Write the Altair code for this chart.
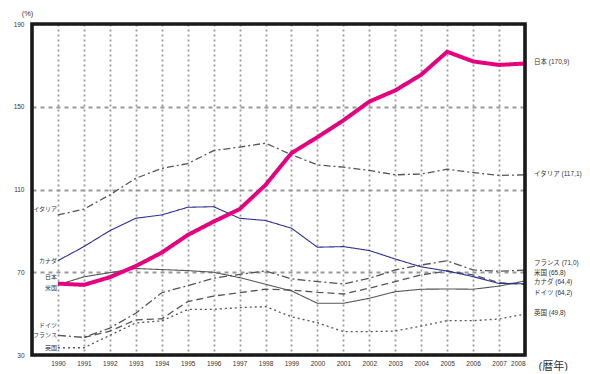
import altair as alt
import pandas as pd

years = list(range(1990, 2009))

japan = [64.5, 63.9, 67.6, 73.0, 79.5, 88.0, 94.5, 100.5, 112.2, 127.6, 135.3, 143.4, 152.5, 157.9, 165.5, 176.6, 171.9, 170.2, 170.9]
italy = [97.7, 100.5, 107.4, 115.4, 120.2, 122.5, 128.8, 130.5, 132.4, 126.8, 121.9, 120.8, 119.2, 117.1, 117.5, 119.8, 118.2, 116.8, 117.1]
canada = [75.6, 82.4, 90.1, 96.1, 97.7, 101.4, 101.7, 96.1, 95.0, 91.3, 82.1, 82.4, 80.5, 76.4, 72.6, 70.6, 67.9, 64.6, 64.4]
usa = [63.9, 67.8, 69.8, 71.8, 71.3, 70.8, 70.0, 67.4, 64.2, 61.0, 55.0, 55.0, 57.4, 60.6, 61.8, 61.9, 61.8, 63.3, 65.8]
france = [39.5, 38.5, 43.0, 50.2, 60.1, 63.5, 67.1, 69.0, 70.6, 66.8, 65.5, 64.3, 67.1, 71.1, 73.5, 75.5, 71.1, 70.5, 71.0]
germany = [None, 38.5, 41.5, 47.0, 47.5, 55.8, 58.5, 60.1, 61.8, 61.4, 60.3, 59.5, 62.3, 65.5, 68.7, 70.6, 68.7, 65.0, 64.2]
uk = [33.5, 33.5, 39.5, 45.5, 46.5, 52.0, 52.1, 52.9, 53.4, 48.5, 45.6, 41.3, 41.3, 41.6, 44.0, 46.6, 46.6, 47.4, 49.8]

names = ["英国", "ドイツ", "フランス", "米国", "カナダ", "イタリア", "日本"]
series = [uk, germany, france, usa, canada, italy, japan]
colors = ["#555555", "#555555", "#555555", "#555555", "#2e3192", "#555555", "#e4007f"]
dashes = [[2, 3], [7, 4], [8, 3, 2, 3], [1, 0], [1, 0], [7, 3, 2, 3], [1, 0]]
widths = [1.3, 1.3, 1.3, 1.1, 1.1, 1.3, 4.0]

right_labels = ["英国 (49,8)", "ドイツ (64,2)", "カナダ (64,4)", "米国 (65,8)", "フランス (71,0)", "イタリア (117,1)", "日本 (170,9)"]
right_label_y = [50.2, 60.1, 65.1, 69.8, 74.3, 117.5, 171.5]
left_labels = ["英国", "フランス", "ドイツ", "米国", "日本", "カナダ", "イタリア"]
left_label_y = [33.5, 39.7, 44.5, 62.2, 67.8, 75.6, 100.6]

y_ticks = [30, 70, 110, 150, 190]
FONT = "Liberation Sans, Noto Sans CJK JP"
W, H = 493, 331

xenc = alt.X("year:Q", scale=alt.Scale(domain=[1989, 2008], nice=False, zero=False),
             axis=alt.Axis(values=years, format="d", labelFontSize=6.5, ticks=False, domain=False,
                           grid=True, gridDash=[2, 3], gridColor="#999999", gridWidth=1.8,
                           labelPadding=5, labelColor="#333", labelFont=FONT,
                           title="(暦年)", titleFontSize=11, titleFontWeight="normal", titleFont=FONT,
                           titleColor="#333", titleAlign="left", titleBaseline="middle",
                           titleX=W + 13, titleY=11, titleAnchor="start"))
yenc = alt.Y("v:Q", scale=alt.Scale(domain=[30, 190], nice=False, zero=False),
             axis=alt.Axis(values=y_ticks, labelFontSize=6.5, ticks=False, domain=False,
                           grid=True, gridDash=[4, 4], gridColor="#999999", gridWidth=1.8,
                           labelPadding=8, labelColor="#333", labelFont=FONT,
                           title="(%)", titleAngle=0, titleFontSize=7.5, titleFontWeight="normal",
                           titleFont=FONT, titleColor="#333", titleAlign="center",
                           titleBaseline="top", titleX=-5, titleY=-15))

layers = []
for name, vals, c, d, w in zip(names, series, colors, dashes, widths):
    df = pd.DataFrame({"year": years, "v": vals}).dropna()
    layers.append(alt.Chart(df).mark_line(color=c, strokeDash=d, strokeWidth=w).encode(x=xenc, y=yenc))

rdf = pd.DataFrame({"year": [2008] * len(right_labels), "v": right_label_y, "t": right_labels})
ldf = pd.DataFrame({"year": [1990] * len(left_labels), "v": left_label_y, "t": left_labels})
layers.append(alt.Chart(rdf).mark_text(align="left", baseline="middle", dx=9, fontSize=6.5,
                                       font=FONT, color="#333").encode(x=xenc, y=yenc, text="t:N"))
layers.append(alt.Chart(ldf).mark_text(align="right", baseline="middle", dx=-1, fontSize=6,
                                       font=FONT, color="#333").encode(x=xenc, y=yenc, text="t:N"))
frame = alt.Chart(pd.DataFrame({"a": [0]})).mark_rect(fill=None, stroke="#1a1a1a", strokeWidth=3.6).encode(
    x=alt.value(0), x2=alt.value(W), y=alt.value(0), y2=alt.value(H))
layers.append(frame)

chart = alt.layer(*layers).properties(
    width=W, height=H,
    autosize=alt.AutoSizeParams(type="none"),
    padding={"left": 24, "top": 16, "right": 57, "bottom": 16},
).configure_view(stroke=None)

chart.save("out.html", embed_options={"renderer": "svg", "actions": False})
